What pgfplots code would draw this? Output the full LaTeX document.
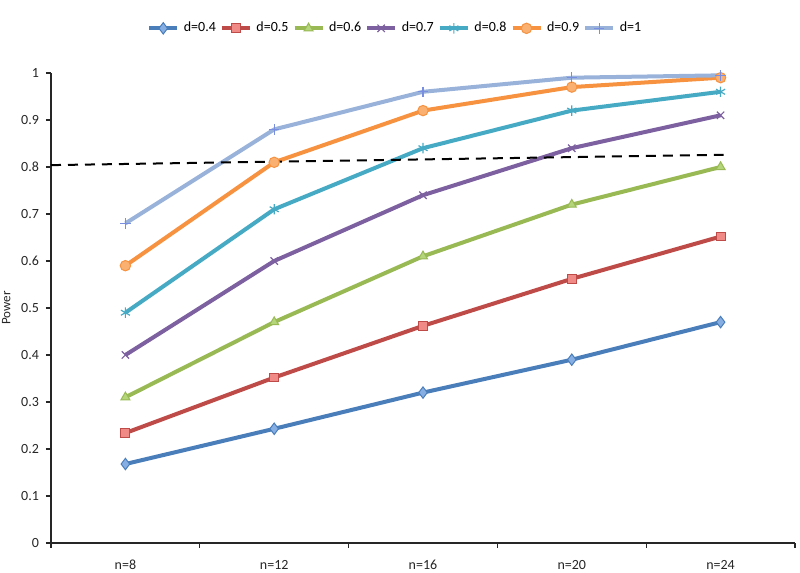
\documentclass[border=0pt]{standalone}
\usepackage{pgfplots}
\pgfplotsset{compat=1.18}
\usepackage{fontspec}
\setmainfont{Carlito}
\definecolor{c1}{HTML}{4A7EBB}\definecolor{f1}{HTML}{86AEE3}
\definecolor{c2}{HTML}{BE4B48}\definecolor{f2}{HTML}{F08A86}
\definecolor{c3}{HTML}{98B954}\definecolor{f3}{HTML}{B5D57A}
\definecolor{c4}{HTML}{7D60A0}
\definecolor{c5}{HTML}{46AAC5}
\definecolor{c6}{HTML}{F69240}\definecolor{f6}{HTML}{F9B070}
\definecolor{c7}{HTML}{98B2DA}
\begin{document}
\begin{tikzpicture}
\useasboundingbox (0,0) rectangle (400pt,286.5pt);
\begin{axis}[
  at={(25.5pt,15pt)}, anchor=south west,
  scale only axis, width=372pt, height=235pt,
  xmin=-0.5, xmax=4.5, ymin=0, ymax=1,
  clip=false,
  axis lines*=left,
  axis line style={line width=0.6pt, black!85},
  every tick/.style={line width=0.6pt, black!85},
  tick align=outside,
  xtick={0,1,2,3,4},
  xticklabels={n=8,n=12,n=16,n=20,n=24},
  major x tick style={draw=none},
  minor xtick={-0.5,0.5,1.5,2.5,3.5,4.5},
  minor tick length=2.5pt,
  major tick length=2.5pt,
  ytick={0,0.1,...,1},
  yticklabel style={/pgf/number format/fixed, /pgf/number format/precision=1},
  /pgf/number format/assume math mode=true,
  ticklabel style={font=\fontsize{7}{8}\selectfont, text=black!85},
  xticklabel style={yshift=-2.5pt},
  ylabel={Power},
  ylabel style={font=\fontsize{6.5}{8}\selectfont, text=black!85, anchor=center, at={(axis description cs:-0.06,0.5)}},
  legend columns=7,
  legend style={draw=none, at={(0.464,1.095)}, anchor=center,
    font=\fontsize{7}{8}\selectfont, column sep=0.3pt,
    /tikz/every even column/.append style={column sep=0pt}},
  legend image code/.code={\draw[mark repeat=2,mark phase=2] plot coordinates {(0pt,0pt)(7pt,0pt)(14pt,0pt)};},
  every axis plot/.append style={line width=2pt, mark size=2.6pt},
]
\addplot[c1, mark=diamond*, mark options={fill=f1, draw=c1, line width=0.5pt, scale=1.1}] coordinates {(0,0.168) (1,0.243) (2,0.320) (3,0.390) (4,0.470)};
\addlegendentry{d=0.4}
\addplot[c2, mark=square*, mark options={fill=f2, draw=c2, line width=0.5pt, scale=0.85}] coordinates {(0,0.234) (1,0.352) (2,0.462) (3,0.562) (4,0.652)};
\addlegendentry{d=0.5}
\addplot[c3, mark=triangle*, mark options={fill=f3, draw=c3, line width=0.5pt}] coordinates {(0,0.310) (1,0.470) (2,0.610) (3,0.720) (4,0.800)};
\addlegendentry{d=0.6}
\addplot[c4, mark=x, mark options={draw=c4, line width=0.6pt}] coordinates {(0,0.400) (1,0.600) (2,0.740) (3,0.840) (4,0.910)};
\addlegendentry{d=0.7}
\addplot[c5, mark=asterisk, mark options={draw=c5, line width=0.6pt}] coordinates {(0,0.490) (1,0.710) (2,0.840) (3,0.920) (4,0.960)};
\addlegendentry{d=0.8}
\addplot[c6, mark=*, mark options={fill=f6, draw=c6, line width=0.5pt}] coordinates {(0,0.590) (1,0.810) (2,0.920) (3,0.970) (4,0.990)};
\addlegendentry{d=0.9}
\addplot[c7, mark=+, mark options={draw=c7!80!blue, line width=0.6pt}] coordinates {(0,0.680) (1,0.880) (2,0.960) (3,0.990) (4,0.995)};
\addlegendentry{d=1}
\addplot[black, line width=1pt, dash pattern=on 5pt off 3.5pt, forget plot] coordinates {(-0.5,0.804) (4.02,0.826)};
\end{axis}
\end{tikzpicture}
\end{document}
